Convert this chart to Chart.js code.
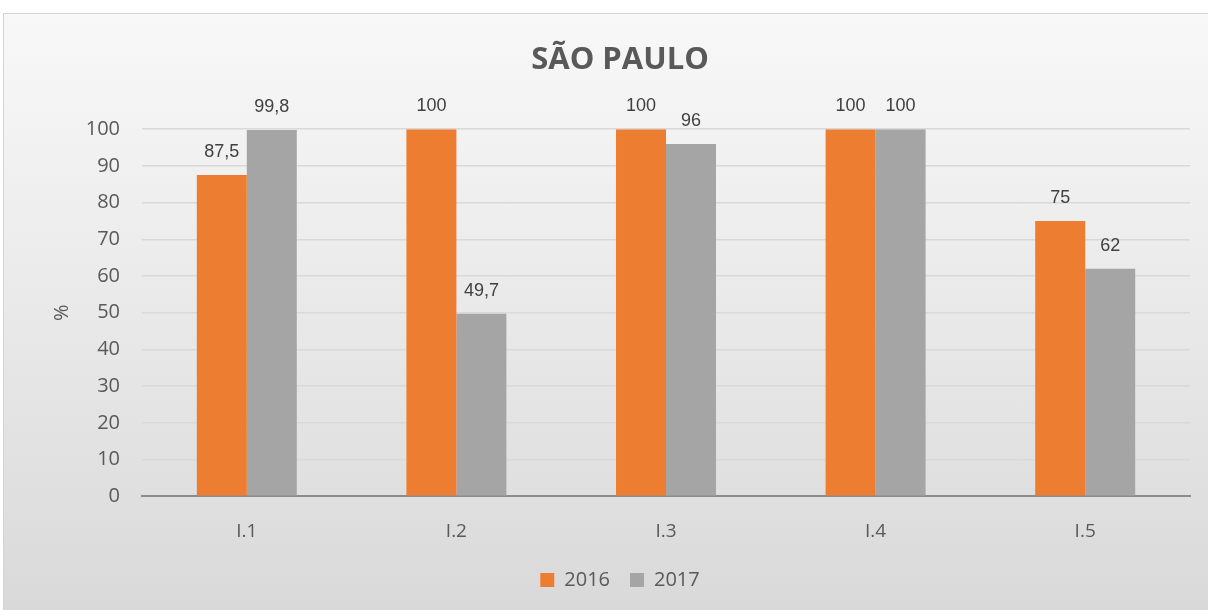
<!DOCTYPE html>
<html>
<head>
<meta charset="utf-8">
<script src="https://cdn.jsdelivr.net/npm/chart.js@4"></script>
<style>
  html, body { margin: 0; padding: 0; background: #fff; }
  body { width: 1208px; height: 610px; position: relative; overflow: hidden; }
  .panel { position: absolute; left: 3px; top: 13px; width: 1210px; height: 600px; border: 1px solid #d4d4d4; box-sizing: border-box;
           background: linear-gradient(to bottom, #f8f8f8 0%, #ececec 40%, #d9d9d9 100%); }
  #chart-wrap { position: absolute; left: 0; top: 0; width: 1208px; height: 610px; }
</style>
</head>
<body>
<div class="panel"></div>
<div id="chart-wrap"><canvas id="sp-chart" width="1208" height="610"></canvas></div>
<script>
  // --- data ---
  const categories = ['I.1', 'I.2', 'I.3', 'I.4', 'I.5'];
  const values2016 = [87.5, 100, 100, 100, 75];
  const values2017 = [99.8, 49.7, 96, 100, 62];
  const seriesNames = ['2016', '2017'];
  const yTicks = [0, 10, 20, 30, 40, 50, 60, 70, 80, 90, 100];

  const TEXT = '#595959';
  const BASE_FONT = "'Open Sans', 'Noto Sans', sans-serif";

  function fmtPt(n) { return String(n).replace('.', ','); }

  // data labels above each bar, placed from the bar elements
  const barLabels = {
    id: 'barLabels',
    afterDatasetsDraw(chart) {
      const { ctx } = chart;
      ctx.save();
      ctx.font = "18px 'Liberation Sans Narrow', 'Arial Narrow', 'Liberation Sans', sans-serif";
      ctx.fillStyle = '#404040';
      ctx.textAlign = 'center';
      ctx.textBaseline = 'bottom';
      chart.data.datasets.forEach((ds, i) => {
        chart.getDatasetMeta(i).data.forEach((bar, j) => {
          ctx.fillText(fmtPt(ds.data[j]), bar.x, bar.y - 14);
        });
      });
      ctx.restore();
    }
  };

  new Chart(document.getElementById('sp-chart'), {
    type: 'bar',
    data: {
      labels: categories,
      datasets: [
        { label: seriesNames[0], data: values2016, backgroundColor: '#ED7D31' },
        { label: seriesNames[1], data: values2017, backgroundColor: '#A5A5A5' },
      ]
    },
    options: {
      responsive: false,
      animation: false,
      layout: { padding: { left: 50, right: 18, top: 0, bottom: 10 } },
      datasets: { bar: { categoryPercentage: 0.477, barPercentage: 1 } },
      plugins: {
        title: {
          display: true, text: 'SÃO PAULO', color: TEXT,
          font: { family: BASE_FONT, size: 31, weight: 'bold' },
          padding: { top: 42, bottom: 50 }
        },
        legend: {
          position: 'bottom',
          labels: { color: TEXT, boxWidth: 14, boxHeight: 14, padding: 20, font: { family: BASE_FONT, size: 20 } }
        },
        tooltip: { enabled: false }
      },
      scales: {
        x: {
          afterFit(scale) { scale.height -= 17; },
          grid: { display: false, drawTicks: false },
          border: { display: true, color: '#8c8c8c', width: 2 },
          ticks: { color: TEXT, padding: 24, font: { family: BASE_FONT, size: 19 } }
        },
        y: {
          min: 0, max: 100,
          afterFit(scale) { scale.width = 142 - 50; },
          afterBuildTicks(scale) { scale.ticks = yTicks.map(v => ({ value: v })); },
          grid: { color: '#d9d9d9', lineWidth: 1.5, drawTicks: false },
          border: { display: false },
          ticks: { color: TEXT, padding: 22, font: { family: BASE_FONT, size: 20 } },
          title: { display: true, text: '%', color: TEXT, padding: 0, font: { family: BASE_FONT, size: 20 } }
        }
      }
    },
    plugins: [barLabels]
  });
</script>
</body>
</html>
